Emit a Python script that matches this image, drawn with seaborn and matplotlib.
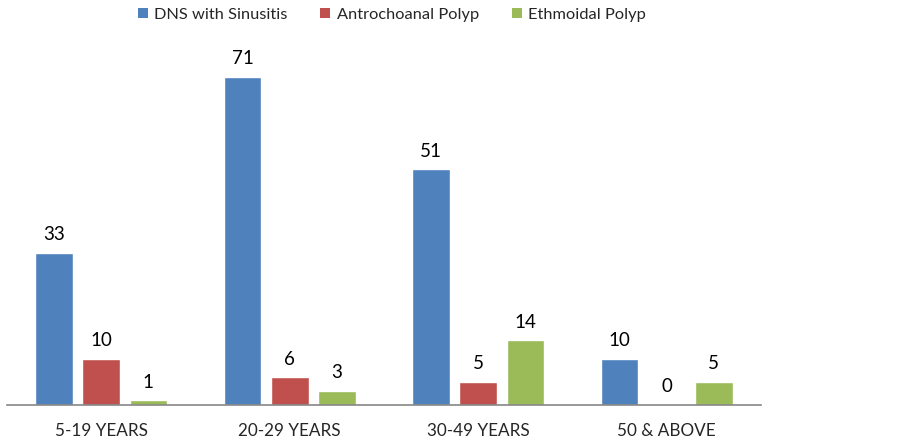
import matplotlib
matplotlib.use("Agg")
import matplotlib.pyplot as plt
import pandas as pd
import seaborn as sns
from matplotlib.patches import Patch

AGE_GROUPS = ["5-19 YEARS", "20-29 YEARS", "30-49 YEARS", "50 & ABOVE"]
SERIES = ["DNS with Sinusitis", "Antrochoanal Polyp", "Ethmoidal Polyp"]
DNS_SINUSITIS = [33, 71, 51, 10]
ANTROCHOANAL = [10, 6, 5, 0]
ETHMOIDAL = [1, 3, 14, 5]
COLORS = ["#4F81BD", "#C0504D", "#9BBB59"]


def main():
    df = pd.DataFrame({"age": AGE_GROUPS * 3,
                       "series": [s for s in SERIES for _ in AGE_GROUPS],
                       "count": DNS_SINUSITIS + ANTROCHOANAL + ETHMOIDAL})

    sns.set_style("white")
    plt.rcParams["font.family"] = ["Lato", "DejaVu Sans"]

    fig = plt.figure(figsize=(8.99, 4.42), dpi=100)
    ax = fig.add_axes([7 / 899, 37 / 442, 754 / 899, 375 / 442])
    sns.barplot(data=df, x="age", y="count", hue="series", palette=COLORS,
                saturation=1, width=0.75, gap=0.2, ax=ax, legend=False)

    for c in ax.containers:
        ax.bar_label(c, padding=7, fontsize=13.5, color="#000000")

    ax.set_xlim(-0.5, 3.5)
    ax.set_ylim(0, 375 / 4.62)
    ax.set_xlabel("")
    ax.set_ylabel("")
    ax.set_yticks([])
    ax.tick_params(axis="x", length=0, pad=13, labelsize=12.3)
    for side in ["top", "right", "left"]:
        ax.spines[side].set_visible(False)
    ax.spines["bottom"].set_color("#868686")
    ax.spines["bottom"].set_linewidth(1.2)

    handles = [Patch(facecolor=c, edgecolor="none") for c in COLORS]
    fig.legend(handles, SERIES, loc="center", bbox_to_anchor=(392 / 899, 1 - 15 / 442),
               ncol=3, frameon=False, fontsize=11.8, handlelength=0.6, handleheight=0.6,
               handletextpad=0.4, columnspacing=2.0)

    fig.savefig("out.png", dpi=100)


if __name__ == "__main__":
    main()
